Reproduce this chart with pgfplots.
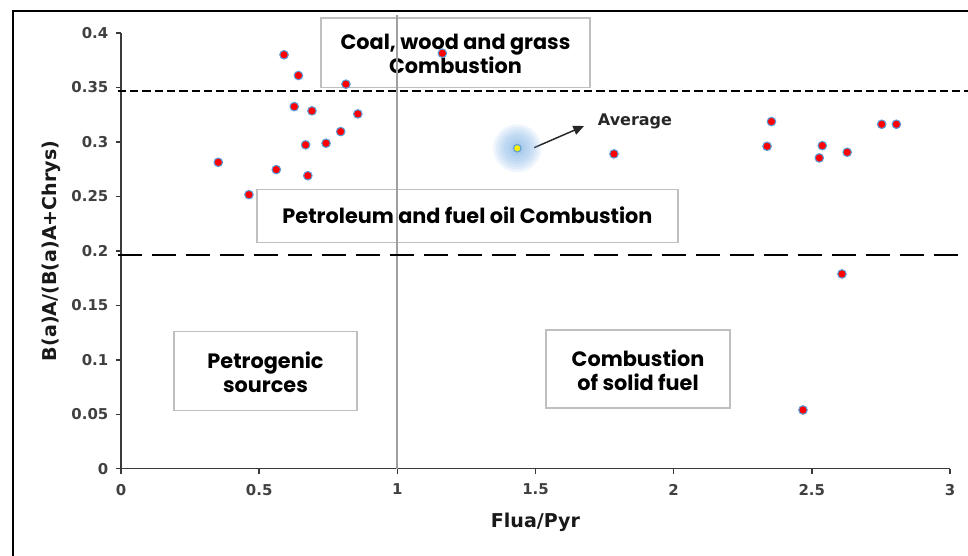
\documentclass[border=0pt]{standalone}
\usepackage{pgfplots}
\pgfplotsset{compat=1.18}
\usepackage{fontspec}
\setmainfont{DejaVu Sans}
\newfontfamily\boxfont{Poppins}
\usetikzlibrary{arrows.meta}

\definecolor{ticktext}{HTML}{404040}
\definecolor{axisgray}{HTML}{3A3A3A}
\definecolor{ptedge}{HTML}{5B9BD5}
\definecolor{glow}{HTML}{7FB2E5}
\definecolor{boxedge}{HTML}{BFBFBF}
\definecolor{divider}{HTML}{A0A0A0}

% sample ratios: Flua/Pyr vs B(a)A/(B(a)A+Chrys)
\pgfplotstableread{
x      y
0.352  0.2813
0.463  0.2516
0.590  0.3800
0.642  0.3610
0.627  0.3324
0.691  0.3285
0.562  0.2746
0.668  0.2973
0.676  0.2690
0.742  0.2988
0.795  0.3095
0.857  0.3257
0.814  0.3530
1.163  0.3814
1.784  0.2890
2.354  0.3187
2.338  0.2960
2.538  0.2966
2.527  0.2853
2.628  0.2905
2.753  0.3162
2.806  0.3162
2.609  0.1788
2.468  0.0539
}\samples

\pgfplotstableread{
x      y
1.434  0.2942
}\average

\pgfplotsset{
  halo/.style={only marks, mark=*, color=glow, mark size=#1,
    mark options={draw opacity=0, fill=glow, fill opacity=0.13, line width=0pt}},
}

\begin{document}
\begin{tikzpicture}
\begin{axis}[
  scale only axis,
  width=621.75pt, height=326.8pt,
  xmin=0, xmax=3, ymin=0, ymax=0.4,
  axis x line=bottom, axis y line=left,
  axis line style={-, draw=axisgray, line width=1.1pt},
  tick style={draw=axisgray, line width=1.1pt},
  tick align=outside,
  major tick length=4pt,
  xtick={0,0.5,1,1.5,2,2.5,3},
  xticklabels={0,0.5,1,1.5,2,2.5,3},
  ytick={0,0.05,0.1,0.15,0.2,0.25,0.3,0.35,0.4},
  yticklabels={0,0.05,0.1,0.15,0.2,0.25,0.3,0.35,0.4},
  ticklabel style={font=\fontsize{11.2}{13}\selectfont\bfseries, text=ticktext},
  xticklabel style={yshift=-4pt},
  yticklabel style={xshift=-2pt},
  /pgf/number format/assume math mode=true,
  xlabel={Flua/Pyr},
  ylabel={B(a)A/(B(a)A+Chrys)},
  label style={font=\fontsize{14.3}{16}\selectfont\bfseries, text=black!90},
  xlabel style={at={(axis description cs:0.5,-0.124)}, anchor=center},
  ylabel style={at={(axis description cs:-0.0844,0.5)}, anchor=center},
  clip=false,
]
% outer frame
\draw[black, line width=1.5pt] (axis cs:-0.3908,-0.0801) -- (axis cs:-0.3908,0.4202) -- (axis cs:3.0652,0.4202);

% source region boxes
\draw[boxedge, line width=0.9pt, fill=white] (axis cs:0.7238,0.4137) rectangle (axis cs:1.6973,0.3503);
\draw[boxedge, line width=0.9pt, fill=white] (axis cs:0.4922,0.2566) rectangle (axis cs:2.0157,0.2080);
\draw[boxedge, line width=0.9pt, fill=white] (axis cs:0.1918,0.1263) rectangle (axis cs:0.8541,0.0538);
\draw[boxedge, line width=0.9pt, fill=white] (axis cs:1.5380,0.1273) rectangle (axis cs:2.2040,0.0557);

\begin{scope}[every node/.style={font=\boxfont\fontsize{15.6}{18}\selectfont\bfseries, align=center, text=black}]
\node at (axis cs:1.2105,0.3810) {Coal, wood and grass\\Combustion};
\node at (axis cs:1.2539,0.2329) {Petroleum and fuel oil Combustion};
\node at (axis cs:0.5229,0.0888) {Petrogenic\\sources};
\node at (axis cs:1.8710,0.0906) {Combustion\\of solid fuel};
\end{scope}

% divider at Flua/Pyr = 1
\draw[divider, line width=1.3pt] (axis cs:1,0) -- (axis cs:1,0.4165);

% thresholds
\draw[black, line width=1.7pt, dash pattern=on 6.2pt off 3pt] (axis cs:-0.011,0.347) -- (axis cs:3.0652,0.347);
\draw[black, line width=1.8pt, dash pattern=on 18pt off 7.5pt] (axis cs:-0.011,0.196) -- (axis cs:3.0652,0.196);

% soft halo around the mean
\addplot[halo=18pt] table {\average};
\addplot[halo=16pt] table {\average};
\addplot[halo=14pt] table {\average};
\addplot[halo=12pt] table {\average};
\addplot[halo=10pt] table {\average};
\addplot[halo=8pt] table {\average};
\addplot[halo=6pt] table {\average};
\addplot[halo=4.5pt] table {\average};

% samples
\addplot[only marks, mark=*, mark size=3.2pt, mark options={draw=ptedge, line width=0.8pt, fill=red}] table {\samples};
\addplot[only marks, mark=*, mark size=2.8pt, mark options={draw=ptedge, line width=0.8pt, fill=yellow}] table {\average};

% annotation
\draw[-{Triangle[length=8pt,width=7pt]}, line width=1.1pt, black!85] (axis cs:1.4948,0.2947) -- (axis cs:1.6755,0.3146);
\node[font=\fontsize{12}{14}\selectfont\bfseries, text=black!85] at (axis cs:1.860,0.3192) {Average};

\coordinate (bbSW) at (axis cs:-0.4379,-0.0801);
\coordinate (bbNE) at (axis cs:3.0652,0.4303);
\end{axis}
\pgfresetboundingbox
\useasboundingbox (bbSW) rectangle (bbNE);
\end{tikzpicture}
\end{document}
